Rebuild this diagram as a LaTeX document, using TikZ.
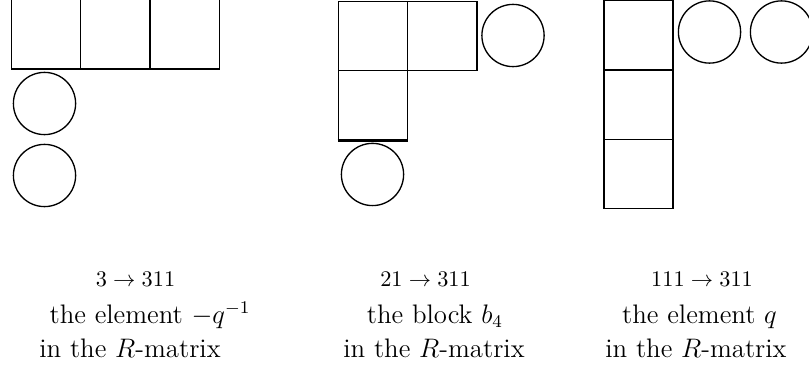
\documentclass[tikz,border=0pt]{standalone}
\usepackage{amssymb}
\usepackage{tikz}
\usetikzlibrary{positioning}

\begin{document}
\begin{tikzpicture}[
    cell/.style={rectangle, draw=black, semithick, minimum size=1.091cm, inner sep=0pt},
    bead/.style={circle, draw=black, semithick, minimum size=0.98cm, inner sep=0pt},
    move/.style={anchor=base, inner sep=0pt, font=\normalsize},
    caption/.style={anchor=base, inner sep=0pt, font=\large}
]
\useasboundingbox (0,0) rectangle (12.742,-5.922);

% ============== LEFT: 3 -> 311 ==============
\node[cell] (threeA) at (0.7245,-0.540) {};
\node[cell] (threeB) at (1.8155,-0.540) {};
\node[cell] (threeC) at (2.9065,-0.540) {};
\draw[thick] (threeB.north east) -- (threeB.south east);

\node[bead] (threeBeadA) at (0.701,-1.630) {};
\node[bead] (threeBeadB) at (0.701,-2.764) {};

\node[move] (threeMove) at (2.134,-4.520) {$3\to 311$};
\node[caption] (threeWhat) at (2.363,-5.092) {the element $-q^{-1}$};
\node[caption] (threeWhere) at (2.048,-5.627) {in the $R$-matrix};

% ============== MIDDLE: 21 -> 311 ==============
\node[cell] (twoOneA) at (5.875,-0.567) {};
\node[cell] (twoOneB) at (6.966,-0.567) {};
\node[cell] (twoOneC) at (5.875,-1.658) {};
\draw[very thick] (twoOneC.south west) -- (twoOneC.south east);

\node[bead] (twoOneBeadA) at (8.080,-0.559) {};
\node[bead] (twoOneBeadB) at (5.867,-2.748) {};

\node[move] (twoOneMove) at (6.702,-4.520) {$21\to 311$};
\node[caption] (twoOneWhat) at (6.851,-5.092) {the block $b_4$};
\node[caption] (twoOneWhere) at (6.836,-5.627) {in the $R$-matrix};

% ============== RIGHT: 111 -> 311 ==============
\node[cell] (oneOneA) at (10.056,-0.556) {};
\node[cell] (oneOneB) at (10.056,-1.647) {};
\node[cell] (oneOneC) at (10.056,-2.738) {};

\node[bead] (oneOneBeadA) at (11.175,-0.504) {};
\node[bead] (oneOneBeadB) at (12.309,-0.504) {};

\node[move] (oneOneMove) at (11.057,-4.520) {$111\to 311$};
\node[caption] (oneOneWhat) at (11.017,-5.092) {the element $q$};
\node[caption] (oneOneWhere) at (10.962,-5.627) {in the $R$-matrix};

\end{tikzpicture}
\end{document}
